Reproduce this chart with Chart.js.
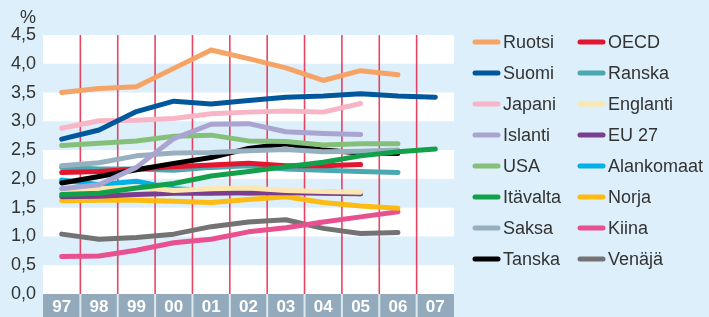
<!DOCTYPE html>
<html>
<head>
<meta charset="utf-8">
<script src="https://cdn.jsdelivr.net/npm/chart.js@4"></script>
<style>
  body { margin: 0; background: #ddeffa; }
  canvas { display: block; }
</style>
</head>
<body>
<canvas id="chart" width="709" height="317"></canvas>
<script>
// vuodet ja sarjat
const years = ['97', '98', '99', '00', '01', '02', '03', '04', '05', '06', '07'];
const yTicks = [0, 0.5, 1, 1.5, 2, 2.5, 3, 3.5, 4, 4.5];

const ruotsi    = [3.50, 3.57, 3.60, 3.92, 4.24, 4.09, 3.93, 3.71, 3.88, 3.81, null];
const suomi     = [2.69, 2.85, 3.17, 3.35, 3.30, 3.36, 3.42, 3.44, 3.48, 3.44, 3.42];
const japani    = [2.88, 3.01, 3.02, 3.05, 3.13, 3.16, 3.18, 3.16, 3.31, null, null];
const islanti   = [1.83, 1.90, 2.20, 2.70, 2.95, 2.96, 2.82, 2.79, 2.77, null, null];
const usa       = [2.58, 2.62, 2.66, 2.74, 2.76, 2.66, 2.65, 2.59, 2.61, 2.61, null];
const itavalta  = [1.73, 1.75, 1.84, 1.92, 2.05, 2.13, 2.21, 2.29, 2.40, 2.47, 2.52];
const saksa     = [2.23, 2.28, 2.40, 2.45, 2.46, 2.49, 2.51, 2.47, 2.48, 2.50, null];
const tanska    = [1.93, 2.04, 2.16, 2.27, 2.37, 2.53, 2.61, 2.50, 2.45, 2.44, null];
const oecd      = [2.11, 2.13, 2.17, 2.21, 2.24, 2.27, 2.23, 2.23, 2.25, null, null];
const ranska    = [2.20, 2.17, 2.17, 2.15, 2.20, 2.23, 2.17, 2.15, 2.13, 2.11, null];
const englanti  = [1.81, 1.83, 1.86, 1.80, 1.83, 1.84, 1.80, 1.78, 1.77, null, null];
const eu27      = [1.69, 1.70, 1.73, 1.75, 1.75, 1.76, 1.76, 1.75, 1.74, null, null];
const alankomaat= [1.98, 1.90, 1.96, 1.83, 1.80, 1.75, 1.77, 1.78, 1.74, null, null];
const norja     = [1.62, 1.63, 1.63, 1.61, 1.59, 1.64, 1.69, 1.59, 1.53, 1.49, null];
const kiina     = [0.65, 0.66, 0.76, 0.89, 0.95, 1.08, 1.15, 1.25, 1.34, 1.43, null];
const venaja    = [1.04, 0.95, 0.98, 1.04, 1.17, 1.25, 1.29, 1.14, 1.05, 1.07, null];

const names = ['Ruotsi', 'Suomi', 'Japani', 'Islanti', 'USA', 'Itävalta', 'Saksa', 'Tanska',
               'OECD', 'Ranska', 'Englanti', 'EU 27', 'Alankomaat', 'Norja', 'Kiina', 'Venäjä'];
const series = [ruotsi, suomi, japani, islanti, usa, itavalta, saksa, tanska,
                oecd, ranska, englanti, eu27, alankomaat, norja, kiina, venaja];
const colors = ['#f5a465', '#00579c', '#f7b5c5', '#a9a5d0', '#84c07a', '#12a14a', '#97b0c0', '#000000',
                '#e4152e', '#4aa8b0', '#fde6b0', '#7b3d8e', '#00b0e6', '#fdbb14', '#e8508f', '#737373'];

const FONT = '"Liberation Sans", Arial, sans-serif';

// taustat, raidat ja pystyviivat
const backdrop = {
    id: 'backdrop',
    beforeDraw(chart) {
        const ctx = chart.ctx;
        const a = chart.chartArea;
        const y = chart.scales.y;
        ctx.save();
        ctx.fillStyle = '#ddeffa';
        ctx.fillRect(0, 0, chart.width, chart.height);
        // valkoiset raidat
        ctx.fillStyle = '#ffffff';
        for (let i = 0; i < yTicks.length - 1; i += 2) {
            const top = y.getPixelForValue(yTicks[yTicks.length - 1 - i]);
            const bot = y.getPixelForValue(yTicks[yTicks.length - 2 - i]);
            ctx.fillRect(a.left, top, a.right - a.left, bot - top);
        }
        // vuosikaista alhaalla
        ctx.fillStyle = '#92aabb';
        ctx.fillRect(a.left, a.bottom, a.right - a.left, chart.height - a.bottom);
        const step = (a.right - a.left) / years.length;
        for (let i = 1; i < years.length; i++) {
            const px = a.left + i * step;
            ctx.strokeStyle = 'rgba(228,36,72,0.85)';
            ctx.lineWidth = 1.6;
            ctx.beginPath();
            ctx.moveTo(px, a.top);
            ctx.lineTo(px, a.bottom);
            ctx.stroke();
            ctx.strokeStyle = '#dde9f0';
            ctx.lineWidth = 2;
            ctx.beginPath();
            ctx.moveTo(px, a.bottom);
            ctx.lineTo(px, chart.height);
            ctx.stroke();
        }
        ctx.fillStyle = '#333333';
        ctx.font = '18px ' + FONT;
        ctx.textAlign = 'center';
        ctx.textBaseline = 'middle';
        ctx.fillText('%', 28, 18);
        ctx.restore();
    },
    afterDraw(chart) {
        // selite kahdessa sarakkeessa
        const ctx = chart.ctx;
        ctx.save();
        ctx.font = '18px ' + FONT;
        ctx.textBaseline = 'middle';
        ctx.textAlign = 'left';
        ctx.lineCap = 'round';
        ctx.lineWidth = 5;
        chart.data.datasets.forEach((ds, i) => {
            const col = Math.floor(i / 8), row = i % 8;
            const x0 = col === 0 ? 475 : 580;
            const yy = 42 + row * 31;
            ctx.strokeStyle = ds.borderColor;
            ctx.beginPath();
            ctx.moveTo(x0, yy);
            ctx.lineTo(x0 + 23, yy);
            ctx.stroke();
            ctx.fillStyle = '#333333';
            ctx.fillText(ds.label, x0 + 28, yy + 1);
        });
        ctx.restore();
    }
};

new Chart(document.getElementById('chart'), {
    type: 'line',
    data: {
        labels: years,
        datasets: names.map((n, i) => ({
            label: n,
            data: series[i],
            borderColor: colors[i],
            backgroundColor: colors[i],
            borderWidth: 5,
            borderCapStyle: 'round',
            borderJoinStyle: 'round',
            pointRadius: 0,
            tension: 0
        }))
    },
    options: {
        responsive: false,
        animation: false,
        layout: { padding: { top: 35, right: 255, left: 0, bottom: 0 } },
        plugins: { legend: { display: false }, tooltip: { enabled: false } },
        scales: {
            x: {
                offset: true,
                grid: { display: false, drawTicks: false },
                border: { display: false },
                ticks: { color: '#ffffff', font: { family: FONT, size: 17, weight: 'bold' }, padding: 3, maxRotation: 0 },
                afterFit(s) { s.height = 23; }
            },
            y: {
                min: 0,
                max: 4.5,
                grid: { display: false, drawTicks: false },
                border: { display: false },
                ticks: {
                    stepSize: 0.5,
                    color: '#333333',
                    padding: 7,
                    font: { family: FONT, size: 18 },
                    callback: v => v.toFixed(1).replace('.', ',')
                },
                afterFit(s) { s.width = 43; }
            }
        }
    },
    plugins: [backdrop]
});
</script>
</body>
</html>
